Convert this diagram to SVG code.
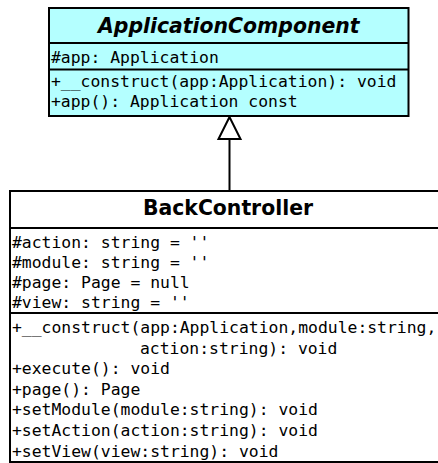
<svg xmlns="http://www.w3.org/2000/svg" width="438" height="463" viewBox="0 0 438 463">
<style>
.box{stroke:#000;stroke-width:2}
.sep{stroke:#000;stroke-width:2}
.title{font-family:"DejaVu Sans",sans-serif;font-weight:bold;font-size:20.4px;text-anchor:middle;fill:#000}
.mono{font-family:"DejaVu Sans Mono","Liberation Mono",monospace;font-size:16.4px;fill:#000}
</style>
<rect width="438" height="463" fill="#fff"/>
<g id="connectors">
<line x1="229.5" y1="139" x2="229.5" y2="191" stroke="#000" stroke-width="2"/>
<polygon points="229.5,117 218.5,139 240.5,139" fill="#fff" stroke="#000" stroke-width="2" stroke-linejoin="miter"/>
</g>
<g id="ApplicationComponent">
<rect class="box" x="49" y="8" width="359.5" height="108" fill="#b4ffff"/>
<line class="sep" x1="49" y1="43" x2="408.5" y2="43"/>
<line class="sep" x1="49" y1="69.5" x2="408.5" y2="69.5"/>
<text class="title" x="228.75" y="33" font-style="italic">ApplicationComponent</text>
<text class="mono" x="51" y="62.5">#app: Application</text>
<text class="mono" x="51" y="86.5">+__construct(app:Application): void</text>
<text class="mono" x="51" y="106.5">+app(): Application const</text>
</g>
<g id="BackController">
<rect class="box" x="10" y="191" width="440" height="271" fill="#fff"/>
<line class="sep" x1="10" y1="228" x2="450" y2="228"/>
<line class="sep" x1="10" y1="313" x2="450" y2="313"/>
<text class="title" x="228" y="215">BackController</text>
<text class="mono" x="12" y="248">#action: string = ''</text>
<text class="mono" x="12" y="268">#module: string = ''</text>
<text class="mono" x="12" y="288">#page: Page = null</text>
<text class="mono" x="12" y="308">#view: string = ''</text>
<text class="mono" x="12" y="333">+__construct(app:Application,module:string,</text>
<text class="mono" x="140" y="353.6">action:string): void</text>
<text class="mono" x="12" y="374.2">+execute(): void</text>
<text class="mono" x="12" y="394.8">+page(): Page</text>
<text class="mono" x="12" y="415.4">+setModule(module:string): void</text>
<text class="mono" x="12" y="436">+setAction(action:string): void</text>
<text class="mono" x="12" y="456.6">+setView(view:string): void</text>
</g>
</svg>
